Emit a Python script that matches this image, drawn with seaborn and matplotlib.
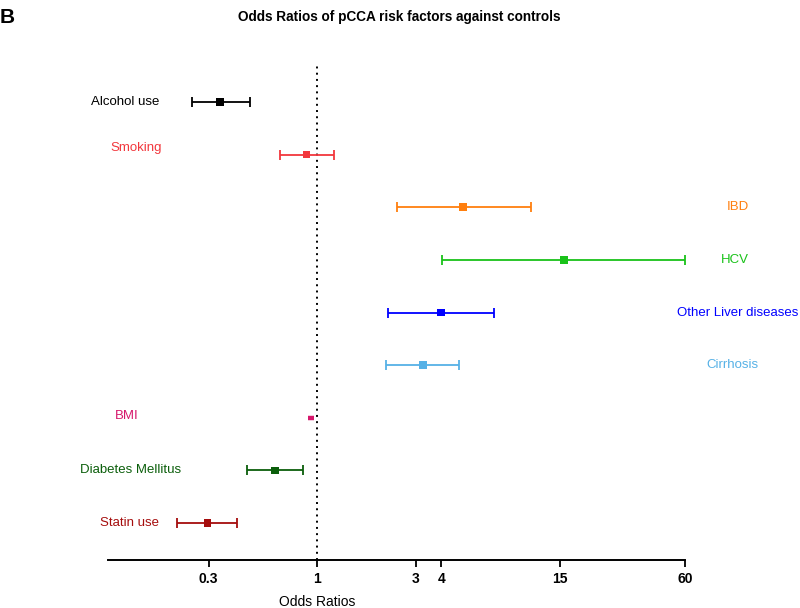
import matplotlib
matplotlib.use("Agg")
import matplotlib.pyplot as plt
import matplotlib.transforms as mtransforms
import seaborn as sns
import pandas as pd

factors = ["Alcohol use", "Smoking", "IBD", "HCV", "Other Liver diseases",
           "Cirrhosis", "BMI", "Diabetes Mellitus", "Statin use"]
odds = [0.34, 0.89, 5.1, 15.6, 3.97, 3.25, 0.935, 0.627, 0.297]
ci_low = [0.249, 0.663, 2.43, 4.02, 2.2, 2.15, 0.905, 0.459, 0.211]
ci_high = [0.475, 1.21, 10.8, 60.0, 7.16, 4.85, 0.967, 0.855, 0.411]
colors = ["#000000", "#f2373d", "#ff7f0e", "#19c219", "#0000ff",
          "#56b1e6", "#d6176c", "#0b5e0b", "#a50d0d"]
label_side = ["left", "left", "right", "right", "right", "right", "left", "left", "left"]
tick_values = [0.3, 1, 3, 4, 15, 60]
tick_labels = ["0.3", "1", "3", "4", "15", "60"]

sns.set_theme(style="white")
plt.rcParams["font.family"] = ["Liberation Sans", "DejaVu Sans"]
plt.rcParams["text.color"] = "black"
plt.rcParams["axes.labelcolor"] = "black"
plt.rcParams["xtick.color"] = "black"

df = pd.DataFrame({"factor": factors, "odds": odds, "low": ci_low, "high": ci_high,
                   "pos": range(len(factors))})
df["msize"] = [30 if f != "BMI" else 6 for f in factors]

fig = plt.figure(figsize=(8, 6.08), dpi=100)
ax = fig.add_axes([0.135, 0.079, 0.721, 0.814])
ax.set_xscale("log")

for i, row in df.iterrows():
    is_bmi = row.factor == "BMI"
    ax.errorbar([row.odds], [row.pos],
                xerr=[[row.odds - row.low], [row.high - row.odds]],
                fmt="none", ecolor=colors[i],
                elinewidth=3.2 if is_bmi else 1.3,
                capsize=0 if is_bmi else 3.5,
                capthick=1.3, zorder=2)

sns.scatterplot(data=df, x="odds", y="pos", hue="factor", palette=colors,
                size="msize", sizes=(6, 30), marker="s", edgecolor="none",
                legend=False, ax=ax, zorder=3)

ax.axvline(1, color="black", linestyle=(0, (1, 2.2)), linewidth=1.4, zorder=1)

ax.set_xlim(0.098, 60)
ax.set_ylim(8.7, -0.7)
ax.set_yticks([])
ax.set_xticks(tick_values)
ax.set_xticklabels(tick_labels, fontweight="bold", fontsize=10)
ax.minorticks_off()
ax.tick_params(axis="x", which="major", direction="out", length=5, width=1.3,
               bottom=True, color="black", pad=4)
for s in ["top", "left", "right"]:
    ax.spines[s].set_visible(False)
ax.spines["bottom"].set_color("black")
ax.spines["bottom"].set_linewidth(1.4)

ax.set_xlabel("Odds Ratios", fontsize=10)
ax.xaxis.set_label_coords((317 - 108) / (685 - 108), -0.07)
ax.set_ylabel("")

left_x = [125, 136, None, None, None, None, 127, 131, 130]
right_x = [None, None, 738, 735, 738, 732, None, None, None]
dy = [0, -0.13, 0, 0, 0, 0, -0.03, 0, 0]
trans = mtransforms.blended_transform_factory(fig.transFigure, ax.transData)
for i, f in enumerate(factors):
    xp = left_x[i] if label_side[i] == "left" else right_x[i]
    ax.text(xp / 800, i + dy[i], f, color=colors[i], fontsize=9.5,
            ha="center", va="center", transform=trans)

fig.text(0.499, 0.972, "Odds Ratios of pCCA risk factors against controls",
         ha="center", va="center", fontsize=9.8, fontweight="bold")
fig.text(0.0, 0.972, "B", ha="left", va="center", fontsize=15, fontweight="bold")

fig.savefig("out.png", dpi=100, facecolor="white")
